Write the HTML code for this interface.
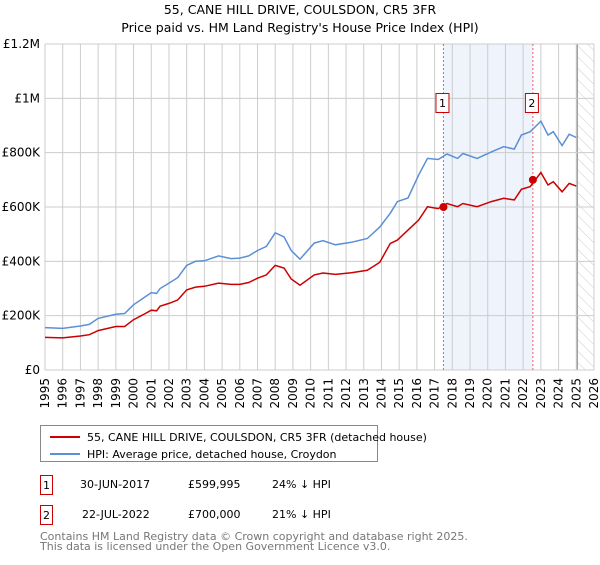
<!DOCTYPE html>
<html><head><meta charset="utf-8"><style>
body{margin:0;width:600px;height:560px;background:#fff;font-family:"Liberation Sans","DejaVu Sans",sans-serif;overflow:hidden}
svg text{font-family:"DejaVu Sans","Liberation Sans",sans-serif}
</style></head><body>
<svg id="c" width="600" height="560">
<defs><pattern id="hatch" width="8" height="8" patternUnits="userSpaceOnUse" patternTransform="rotate(-45)"><line x1="0" y1="0" x2="0" y2="8" stroke="#ccc" stroke-width="1"/></pattern></defs>
<text x="300" y="14" text-anchor="middle" font-size="12.5">55, CANE HILL DRIVE, COULSDON, CR5 3FR</text>
<text x="300" y="32" text-anchor="middle" font-size="12.5">Price paid vs. HM Land Registry's House Price Index (HPI)</text>
<g id="grid"></g><g id="marks"></g>
<g>
<rect x="40.5" y="425.5" width="337" height="36" fill="#fff" stroke="#888"/>
<line x1="50" y1="437" x2="80" y2="437" stroke="#cc0000" stroke-width="2"/>
<text x="87" y="441" font-size="11">55, CANE HILL DRIVE, COULSDON, CR5 3FR (detached house)</text>
<line x1="50" y1="454" x2="80" y2="454" stroke="#5b8fd6" stroke-width="2"/>
<text x="87" y="458" font-size="11">HPI: Average price, detached house, Croydon</text>
</g>
<g font-size="11">
<rect x="40.5" y="475.5" width="12" height="19" fill="#fff" stroke="#cc0000"/><text x="46.5" y="489" text-anchor="middle">1</text>
<text x="80" y="488">30-JUN-2017</text><text x="188" y="488">£599,995</text><text x="272" y="488">24% ↓ HPI</text>
<rect x="40.5" y="505.5" width="12" height="19" fill="#fff" stroke="#cc0000"/><text x="46.5" y="519" text-anchor="middle">2</text>
<text x="82" y="518">22-JUL-2022</text><text x="188" y="518">£700,000</text><text x="272" y="518">21% ↓ HPI</text>
</g>
<text x="40" y="540" font-size="11" fill="#777">Contains HM Land Registry data © Crown copyright and database right 2025.</text>
<text x="40" y="550" font-size="11" fill="#777">This data is licensed under the Open Government Licence v3.0.</text>
</svg>
<script>
const years=[1995,1996,1997,1997.5,1998,1999,1999.5,2000,2000.5,2001,2001.3,2001.5,2002,2002.5,2003,2003.5,2004,2004.8,2005.5,2006,2006.5,2007,2007.5,2008,2008.5,2008.9,2009.4,2010.2,2010.7,2011.4,2012.3,2013.2,2013.9,2014.5,2014.9,2015.5,2016.1,2016.6,2017.2,2017.7,2018.3,2018.6,2019.4,2020.2,2020.9,2021.5,2021.9,2022.4,2023.0,2023.4,2023.7,2024.2,2024.6,2025.0];
const hpi=[156,153,162,168,190,205,208,240,262,285,282,300,320,340,385,400,402,420,410,412,420,440,455,505,490,440,408,467,476,461,470,484,526,577,620,633,718,779,775,795,779,797,779,803,822,813,865,877,916,865,877,826,868,856];
const price=[120,118,125,130,145,160,160,185,202,220,218,235,245,258,295,305,308,320,315,315,322,338,350,385,375,335,312,350,357,352,358,367,396,466,478,515,552,601,594,613,601,613,601,620,632,626,665,675,727,681,693,656,687,677];
const saleYears=[2017.5,2022.55];
const salePrices=[599995,700000];
const saleLabels=["1","2"];
const yTicks=[0,200000,400000,600000,800000,1000000,1200000];
const yTickLabels=["£0","£200K","£400K","£600K","£800K","£1M","£1.2M"];
const xTicks=[];for(let y=1995;y<=2026;y++)xTicks.push(y);
const X0=45,X1=594,Y0=370,Y1=44;
const xs=y=>X0+(y-1995)*(X1-X0)/31;
const ys=v=>Y0-v*(Y0-Y1)/1200000;
const NS="http://www.w3.org/2000/svg";
function mk(tag,attrs,parent){const e=document.createElementNS(NS,tag);for(const k in attrs)e.setAttribute(k,attrs[k]);parent.appendChild(e);return e;}
const g=document.getElementById('grid'),m=document.getElementById('marks');
let r=mk('rect',{x:xs(saleYears[0]),y:Y1,width:xs(saleYears[1])-xs(saleYears[0]),height:Y0-Y1,fill:'#eef3fc'},g);


r=mk('rect',{x:xs(2025.05),y:Y1,width:X1-xs(2025.05),height:Y0-Y1,fill:'url(#hatch)'},g);


mk('line',{x1:xs(2025.05),x2:xs(2025.05),y1:Y1,y2:Y0,stroke:'#999','stroke-width':1.5},g);
xTicks.forEach(y=>{mk('line',{x1:xs(y),x2:xs(y),y1:Y1,y2:Y0,stroke:'#ccc'},g);
const t=mk('text',{x:0,y:0,'font-size':12,transform:`translate(${xs(y)+4},${Y0+8}) rotate(-90)`,'text-anchor':'end'},g);t.textContent=y;

});
yTicks.forEach((v,i)=>{mk('line',{x1:X0,x2:X1,y1:ys(v),y2:ys(v),stroke:'#ccc'},g);
const t=mk('text',{x:40,y:ys(v)+4,'font-size':12,'text-anchor':'end'},g);t.textContent=yTickLabels[i];

});
saleYears.forEach((y,i)=>{mk('line',{x1:xs(y),x2:xs(y),y1:Y1,y2:Y0,stroke:'#f06060','stroke-dasharray':'2,2'},g);
const b=mk('rect',{x:xs(y)-7.5,y:93.5,width:13,height:19,fill:'#fff',stroke:'#cc0000'},m);


const t=mk('text',{x:xs(y)-1,y:107,'font-size':11,'text-anchor':'middle'},m);t.textContent=saleLabels[i];});
const pts=a=>a.map((v,i)=>xs(years[i]).toFixed(1)+','+ys(v*1000).toFixed(1)).join(' ');
let p=mk('polyline',{points:pts(hpi),fill:'none',stroke:'#5b8fd6','stroke-width':1.5},m);


p=mk('polyline',{points:pts(price),fill:'none',stroke:'#cc0000','stroke-width':1.5},m);


saleYears.forEach((y,i)=>{const c=mk('circle',{cx:xs(y),cy:ys(salePrices[i]),r:4,fill:'#cc0000'},m);

});
</script>
</body></html>
